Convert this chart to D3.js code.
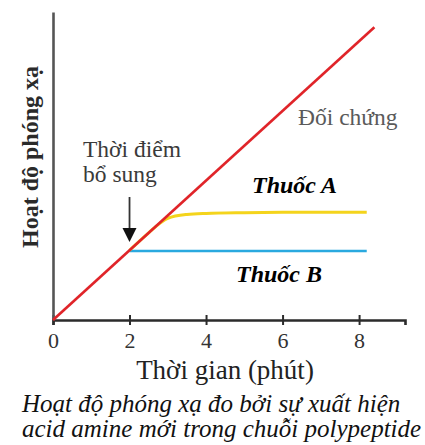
<!DOCTYPE html>
<html>
<head>
<meta charset="utf-8">
<script src="https://cdn.jsdelivr.net/npm/d3@7"></script>
<style>
  body { margin: 0; background: #fff; }
  text { font-family: "Liberation Serif", "Times New Roman", serif; }
</style>
</head>
<body>
<svg id="chart"></svg>
<script>
// data (time in minutes, activity in arbitrary units)
const controlTime = [0, 8.4];
const controlValue = [0, 8.4];
const drugATime = [2, 2.5, 2.8, 3, 3.5, 4, 5, 6, 7, 8.2];
const drugAValue = [2, 2.5, 2.78, 2.92, 3.03, 3.06, 3.08, 3.09, 3.09, 3.09];
const drugBTime = [2, 8.2];
const drugBValue = [1.98, 1.98];
const xTicks = [0, 2, 4, 6, 8];
const arrowTime = 2;
const arrowFrom = 3.53;
const arrowTo = 2.24;

const width = 425;
const height = 445;
let svg;

const xScale = d3.scaleLinear().domain([0, 9.2]).range([53, 405]);
const yScale = d3.scaleLinear().domain([0, 8.84]).range([320, 12]);

document.addEventListener('DOMContentLoaded', function () {
    svg = d3.select('#chart')
        .attr('width', width)
        .attr('height', height);

    drawChart();
});

function drawChart() {
    const line = d3.line()
        .x(d => xScale(d[0]))
        .y(d => yScale(d[1]));

    // x axis with ticks crossing the line
    const xAxis = svg.append('g')
        .attr('transform', `translate(0,${yScale(0)})`)
        .call(d3.axisBottom(xScale).tickValues(xTicks).tickSizeOuter(0).tickSize(5));

    xAxis.select('.domain')
        .attr('stroke', '#2b2b2b')
        .attr('stroke-width', 2.6);

    xAxis.selectAll('.tick line')
        .attr('y1', -5)
        .attr('y2', 5)
        .attr('stroke', '#2b2b2b')
        .attr('stroke-width', 2);

    xAxis.selectAll('.tick text')
        .attr('y', 0)
        .attr('dy', 28)
        .attr('fill', '#333')
        .style('font-size', '22px')
        .style('font-family', '"Liberation Serif", serif');

    // y axis, just the line
    const yAxis = svg.append('g')
        .attr('transform', `translate(${xScale(0)},0)`)
        .call(d3.axisLeft(yScale).tickValues([]).tickSizeOuter(0));

    yAxis.select('.domain')
        .attr('stroke', '#555')
        .attr('stroke-width', 2.6);

    // drug B (blue)
    svg.append('path')
        .datum(drugBTime.map((t, i) => [t, drugBValue[i]]))
        .attr('d', line)
        .attr('fill', 'none')
        .attr('stroke', '#2aa9df')
        .attr('stroke-width', 2.6);

    // drug A (yellow)
    svg.append('path')
        .datum(drugATime.map((t, i) => [t, drugAValue[i]]))
        .attr('d', line.curve(d3.curveMonotoneX))
        .attr('fill', 'none')
        .attr('stroke', '#f4d41c')
        .attr('stroke-width', 3);

    line.curve(d3.curveLinear);

    // control (red)
    svg.append('path')
        .datum(controlTime.map((t, i) => [t, controlValue[i]]))
        .attr('d', line)
        .attr('fill', 'none')
        .attr('stroke', '#e02429')
        .attr('stroke-width', 2.6);

    // arrow for the time the drug was added
    const ax = xScale(arrowTime);
    svg.append('line')
        .attr('x1', ax)
        .attr('x2', ax)
        .attr('y1', yScale(arrowFrom))
        .attr('y2', yScale(arrowTo) - 10)
        .attr('stroke', '#333')
        .attr('stroke-width', 1.8);

    svg.append('path')
        .attr('d', `M${ax - 7},${yScale(arrowTo) - 14} L${ax + 7},${yScale(arrowTo) - 14} L${ax},${yScale(arrowTo)} Z`)
        .attr('fill', '#111');

    /** labels **/

    svg.append('text')
        .attr('x', 83)
        .attr('y', 157)
        .attr('fill', '#3a3a3a')
        .style('font-size', '23.5px')
        .text('Thời điểm');

    svg.append('text')
        .attr('x', 83)
        .attr('y', 182)
        .attr('fill', '#3a3a3a')
        .style('font-size', '23.5px')
        .text('bổ sung');

    svg.append('text')
        .attr('x', 298)
        .attr('y', 125)
        .attr('fill', '#5a5a5a')
        .style('font-size', '23.5px')
        .text('Đối chứng');

    svg.append('text')
        .attr('x', 252)
        .attr('y', 193)
        .attr('fill', '#000')
        .style('font-size', '24px')
        .style('font-weight', 'bold')
        .style('font-style', 'italic')
        .text('Thuốc A');

    svg.append('text')
        .attr('x', 236)
        .attr('y', 282)
        .attr('fill', '#000')
        .style('font-size', '24px')
        .style('font-weight', 'bold')
        .style('font-style', 'italic')
        .text('Thuốc B');

    svg.append('text')
        .attr('x', 225)
        .attr('y', 379)
        .attr('text-anchor', 'middle')
        .attr('fill', '#222')
        .style('font-size', '27px')
        .text('Thời gian (phút)');

    svg.append('text')
        .attr('transform', 'translate(38,157) rotate(-90)')
        .attr('text-anchor', 'middle')
        .attr('fill', '#2a2a2a')
        .style('font-size', '24px')
        .style('font-weight', 'bold')
        .text('Hoạt độ phóng xạ');

    svg.append('text')
        .attr('x', 22)
        .attr('y', 412)
        .attr('fill', '#111')
        .style('font-size', '25px')
        .style('font-style', 'italic')
        .text('Hoạt độ phóng xạ đo bởi sự xuất hiện');

    svg.append('text')
        .attr('x', 22)
        .attr('y', 437)
        .attr('fill', '#111')
        .style('font-size', '25px')
        .style('font-style', 'italic')
        .text('acid amine mới trong chuỗi polypeptide');

    console.log('trace:drawChart()');
}
</script>
</body>
</html>
